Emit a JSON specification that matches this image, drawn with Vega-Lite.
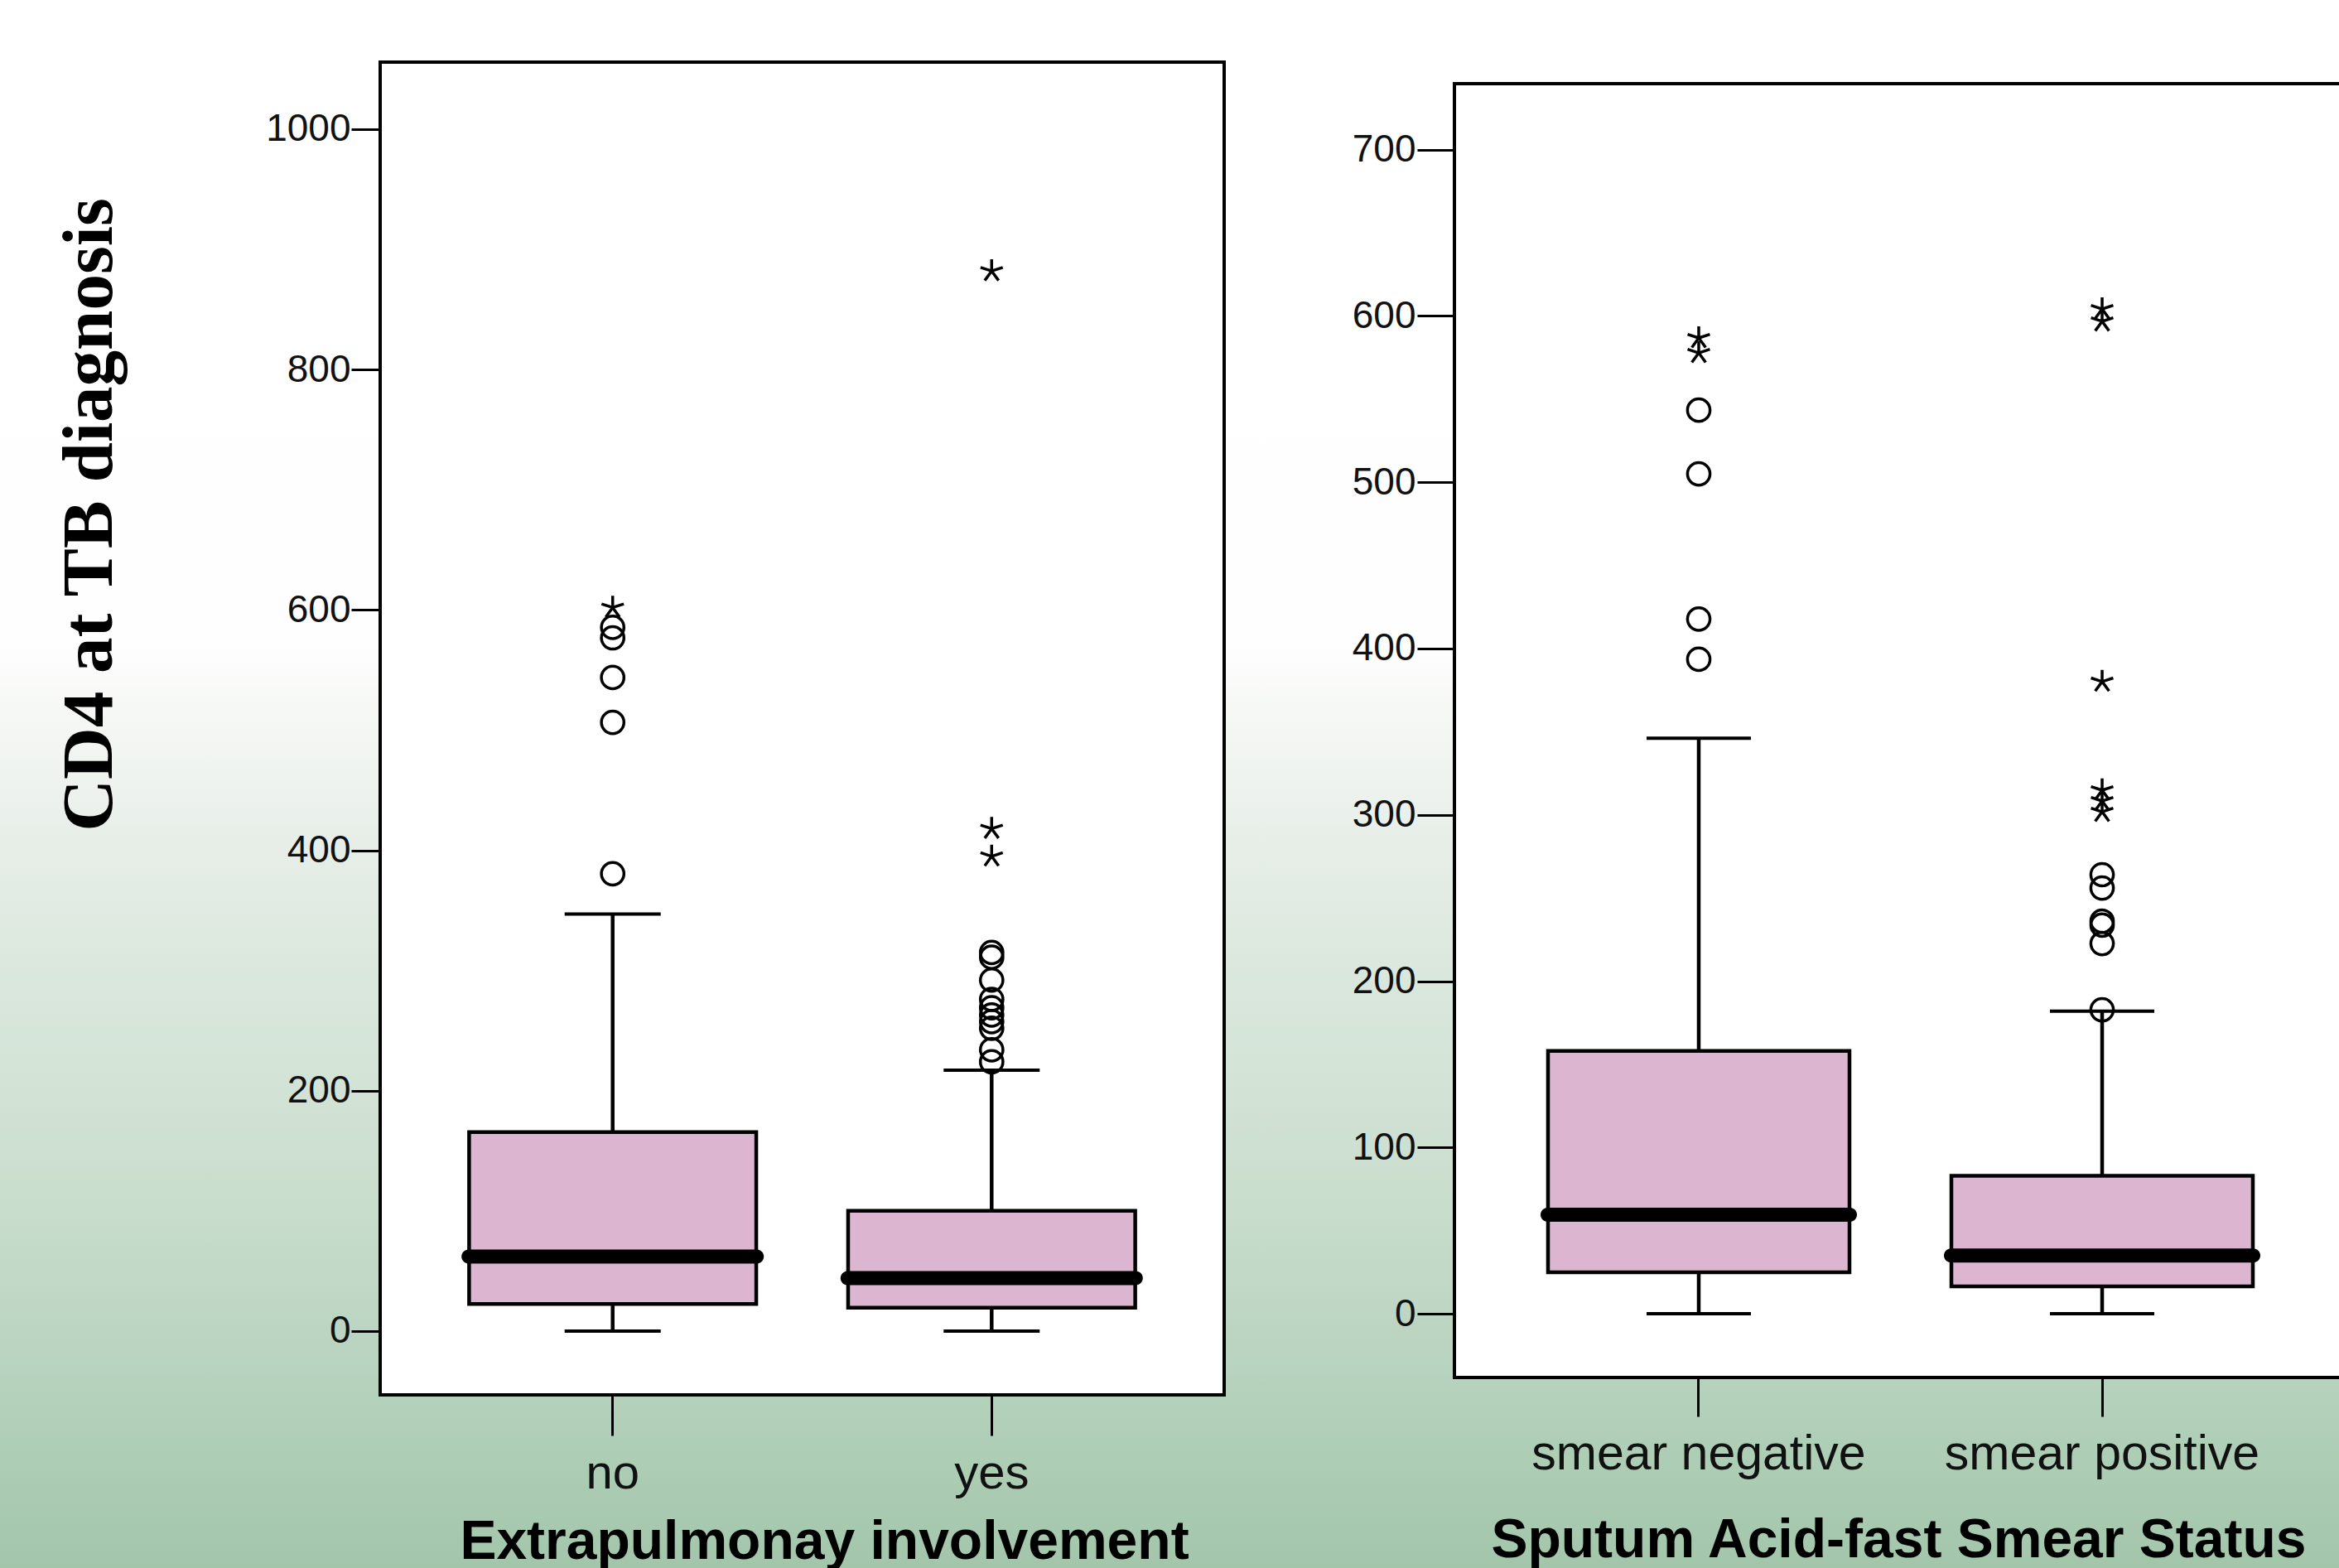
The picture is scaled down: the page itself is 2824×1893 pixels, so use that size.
{
  "$schema": "https://vega.github.io/schema/vega-lite/v6.json",
  "width": 2824,
  "height": 1893,
  "autosize": {"type": "none"},
  "padding": 0,
  "background": "#ffffff",
  "view": {
    "stroke": null,
    "fill": {
      "gradient": "linear", "x1": 0, "y1": 0, "x2": 0, "y2": 1,
      "stops": [
        {"offset": 0, "color": "#ffffff"},
        {"offset": 0.41, "color": "#fefefe"},
        {"offset": 0.46, "color": "#f5f7f4"},
        {"offset": 0.53, "color": "#e8efe9"},
        {"offset": 0.61, "color": "#dce8de"},
        {"offset": 0.69, "color": "#d3e3d6"},
        {"offset": 0.78, "color": "#c7dccb"},
        {"offset": 0.87, "color": "#b8d3bf"},
        {"offset": 0.95, "color": "#aacbb2"},
        {"offset": 1, "color": "#a3c6ab"}
      ]
    }
  },
  "config": {
    "axis": {"grid": false, "domain": false, "tickColor": "#000000", "tickWidth": 3, "labelColor": "#111111", "titleColor": "#000000", "labelFont": "Liberation Sans", "titleFont": "Liberation Sans", "labelOverlap": false, "labelFlush": false, "labelLimit": 0, "titleLimit": 0}
  },
  "datasets": {
    "frames": [{"panel": "L"}, {"panel": "R"}],
    "boxes": [
      {"panel": "L", "group": "no", "lo": 0, "q1": 22.5, "median": 62, "q3": 165.5, "hi": 347},
      {"panel": "L", "group": "yes", "lo": 0, "q1": 19.5, "median": 44, "q3": 100, "hi": 217},
      {"panel": "R", "group": "smear negative", "lo": 0, "q1": 25, "median": 59.5, "q3": 158, "hi": 346},
      {"panel": "R", "group": "smear positive", "lo": 0, "q1": 16.5, "median": 35, "q3": 83, "hi": 182}
    ],
    "outliers": [
      {"panel": "L", "group": "no", "value": 380.5, "kind": "circle"},
      {"panel": "L", "group": "no", "value": 506.5, "kind": "circle"},
      {"panel": "L", "group": "no", "value": 543.8, "kind": "circle"},
      {"panel": "L", "group": "no", "value": 576.8, "kind": "circle"},
      {"panel": "L", "group": "no", "value": 585.5, "kind": "circle"},
      {"panel": "L", "group": "no", "value": 602, "kind": "star"},
      {"panel": "L", "group": "yes", "value": 224, "kind": "circle"},
      {"panel": "L", "group": "yes", "value": 234, "kind": "circle"},
      {"panel": "L", "group": "yes", "value": 252, "kind": "circle"},
      {"panel": "L", "group": "yes", "value": 257.5, "kind": "circle"},
      {"panel": "L", "group": "yes", "value": 263, "kind": "circle"},
      {"panel": "L", "group": "yes", "value": 269, "kind": "circle"},
      {"panel": "L", "group": "yes", "value": 276, "kind": "circle"},
      {"panel": "L", "group": "yes", "value": 292, "kind": "circle"},
      {"panel": "L", "group": "yes", "value": 311, "kind": "circle"},
      {"panel": "L", "group": "yes", "value": 315, "kind": "circle"},
      {"panel": "L", "group": "yes", "value": 395, "kind": "star"},
      {"panel": "L", "group": "yes", "value": 418, "kind": "star"},
      {"panel": "L", "group": "yes", "value": 882, "kind": "star"},
      {"panel": "R", "group": "smear negative", "value": 393.5, "kind": "circle"},
      {"panel": "R", "group": "smear negative", "value": 417.7, "kind": "circle"},
      {"panel": "R", "group": "smear negative", "value": 505, "kind": "circle"},
      {"panel": "R", "group": "smear negative", "value": 543.3, "kind": "circle"},
      {"panel": "R", "group": "smear negative", "value": 577.7, "kind": "star"},
      {"panel": "R", "group": "smear negative", "value": 586.7, "kind": "star"},
      {"panel": "R", "group": "smear positive", "value": 182.8, "kind": "circle"},
      {"panel": "R", "group": "smear positive", "value": 222.6, "kind": "circle"},
      {"panel": "R", "group": "smear positive", "value": 233.7, "kind": "circle"},
      {"panel": "R", "group": "smear positive", "value": 236, "kind": "circle"},
      {"panel": "R", "group": "smear positive", "value": 256, "kind": "circle"},
      {"panel": "R", "group": "smear positive", "value": 264, "kind": "circle"},
      {"panel": "R", "group": "smear positive", "value": 301.8, "kind": "star"},
      {"panel": "R", "group": "smear positive", "value": 308.3, "kind": "star"},
      {"panel": "R", "group": "smear positive", "value": 314.8, "kind": "star"},
      {"panel": "R", "group": "smear positive", "value": 380.1, "kind": "star"},
      {"panel": "R", "group": "smear positive", "value": 596.7, "kind": "star"},
      {"panel": "R", "group": "smear positive", "value": 604.1, "kind": "star"}
    ]
  },
  "resolve": {"scale": {"x": "independent", "y": "independent"}},
  "layer": [
    {
      "data": {"name": "frames"},
      "transform": [{"filter": "datum.panel === 'L'"}],
      "mark": {"type": "rect", "fill": "#ffffff", "stroke": "#000000", "strokeWidth": 4},
      "encoding": {
        "x": {"datum": 0, "type": "quantitative", "scale": {"domain": [0, 1], "range": [459, 1478], "nice": false, "zero": false}, "axis": null},
        "x2": {"datum": 1},
        "y": {"datum": 0, "type": "quantitative", "scale": {"domain": [0, 1], "range": [1684, 75], "nice": false, "zero": false}, "axis": null},
        "y2": {"datum": 1}
      }
    },
    {
      "encoding": {
        "x": {
          "field": "group", "type": "nominal",
          "scale": {"type": "band", "domain": ["no", "yes"], "range": [459, 1478], "paddingInner": 0.2424, "paddingOuter": 0.2347},
          "axis": {
            "orient": "bottom", "offset": -209, "tickSize": 49, "labelFontSize": 58, "labelPadding": 17, "labelAngle": 0,
            "title": "Extrapulmonay involvement", "titleFontSize": 66, "titleFontWeight": "bold", "titleBaseline": "alphabetic", "titleY": 197, "titleX": 995
          }
        },
        "y": {
          "field": "lo", "type": "quantitative",
          "scale": {"domain": [-53.1, 1055.8], "range": [1684, 75], "nice": false, "zero": false},
          "axis": {
            "orient": "left", "offset": -459, "values": [0, 200, 400, 600, 800, 1000], "format": "d", "tickSize": 35, "labelFontSize": 46, "labelPadding": 1,
            "title": "CD4 at TB diagnosis", "titleFont": "Liberation Serif", "titleFontSize": 87, "titleFontWeight": "bold",
            "titleAngle": 270, "titleBaseline": "alphabetic", "titleAlign": "center", "titleX": -325, "titleY": 621
          }
        }
      },
      "layer": [
        {
          "data": {"name": "boxes"},
          "transform": [{"filter": "datum.panel === 'L'"}],
          "mark": {"type": "rule", "color": "#000000", "strokeWidth": 4.5},
          "encoding": {"y2": {"field": "hi"}}
        },
        {
          "data": {"name": "boxes"},
          "transform": [{"filter": "datum.panel === 'L'"}],
          "mark": {"type": "tick", "color": "#000000", "size": 116, "thickness": 4, "opacity": 1}
        },
        {
          "data": {"name": "boxes"},
          "transform": [{"filter": "datum.panel === 'L'"}],
          "mark": {"type": "tick", "color": "#000000", "size": 116, "thickness": 4, "opacity": 1},
          "encoding": {"y": {"field": "hi", "type": "quantitative"}}
        },
        {
          "data": {"name": "boxes"},
          "transform": [{"filter": "datum.panel === 'L'"}],
          "mark": {"type": "bar", "fill": "#dcb6d1", "stroke": "#000000", "strokeWidth": 4.5, "opacity": 1},
          "encoding": {"y": {"field": "q1", "type": "quantitative"}, "y2": {"field": "q3"}}
        },
        {
          "data": {"name": "boxes"},
          "transform": [{"filter": "datum.panel === 'L'"}],
          "mark": {"type": "tick", "color": "#000000", "size": 365, "thickness": 17, "cornerRadius": 8.5, "opacity": 1},
          "encoding": {"y": {"field": "median", "type": "quantitative"}}
        },
        {
          "data": {"name": "outliers"},
          "transform": [{"filter": "datum.panel === 'L' && datum.kind === 'circle'"}],
          "mark": {"type": "point", "shape": "circle", "filled": false, "stroke": "#000000", "strokeWidth": 3.5, "size": 740, "opacity": 1},
          "encoding": {"y": {"field": "value", "type": "quantitative"}}
        },
        {
          "data": {"name": "outliers"},
          "transform": [{"filter": "datum.panel === 'L' && datum.kind === 'star'"}],
          "mark": {"type": "point", "shape": "M0,0L0,-1M0,0L0.95,-0.31M0,0L-0.95,-0.31M0,0L0.59,0.81M0,0L-0.59,0.81", "filled": false, "stroke": "#000000", "strokeWidth": 3.5, "size": 800, "opacity": 1},
          "encoding": {"y": {"field": "value", "type": "quantitative"}}
        }
      ]
    },
    {
      "data": {"name": "frames"},
      "transform": [{"filter": "datum.panel === 'R'"}],
      "mark": {"type": "rect", "fill": "#ffffff", "stroke": "#000000", "strokeWidth": 4},
      "encoding": {
        "x": {"datum": 0, "type": "quantitative", "scale": {"domain": [0, 1], "range": [1756, 2833], "nice": false, "zero": false}, "axis": null},
        "x2": {"datum": 1},
        "y": {"datum": 0, "type": "quantitative", "scale": {"domain": [0, 1], "range": [1663, 101], "nice": false, "zero": false}, "axis": null},
        "y2": {"datum": 1}
      }
    },
    {
      "encoding": {
        "x": {
          "field": "group", "type": "nominal",
          "scale": {"type": "band", "domain": ["smear negative", "smear positive"], "range": [1756, 2833], "paddingInner": 0.2526, "paddingOuter": 0.232},
          "axis": {
            "orient": "bottom", "offset": -230, "tickSize": 47, "labelFontSize": 59, "labelPadding": 16, "labelAngle": 0,
            "title": "Sputum Acid-fast Smear Status", "titleFontSize": 66, "titleFontWeight": "bold", "titleBaseline": "alphabetic", "titleY": 216, "titleX": 2292
          }
        },
        "y": {
          "field": "lo", "type": "quantitative",
          "scale": {"domain": [-38.3, 739.6], "range": [1663, 101], "nice": false, "zero": false},
          "axis": {"orient": "left", "offset": -1756, "values": [0, 100, 200, 300, 400, 500, 600, 700], "format": "d", "tickSize": 45, "labelFontSize": 46, "labelPadding": 2, "title": null}
        }
      },
      "layer": [
        {
          "data": {"name": "boxes"},
          "transform": [{"filter": "datum.panel === 'R'"}],
          "mark": {"type": "rule", "color": "#000000", "strokeWidth": 4.5},
          "encoding": {"y2": {"field": "hi"}}
        },
        {
          "data": {"name": "boxes"},
          "transform": [{"filter": "datum.panel === 'R'"}],
          "mark": {"type": "tick", "color": "#000000", "size": 126, "thickness": 4, "opacity": 1}
        },
        {
          "data": {"name": "boxes"},
          "transform": [{"filter": "datum.panel === 'R'"}],
          "mark": {"type": "tick", "color": "#000000", "size": 126, "thickness": 4, "opacity": 1},
          "encoding": {"y": {"field": "hi", "type": "quantitative"}}
        },
        {
          "data": {"name": "boxes"},
          "transform": [{"filter": "datum.panel === 'R'"}],
          "mark": {"type": "bar", "fill": "#dcb6d1", "stroke": "#000000", "strokeWidth": 4.5, "opacity": 1},
          "encoding": {"y": {"field": "q1", "type": "quantitative"}, "y2": {"field": "q3"}}
        },
        {
          "data": {"name": "boxes"},
          "transform": [{"filter": "datum.panel === 'R'"}],
          "mark": {"type": "tick", "color": "#000000", "size": 382, "thickness": 17, "cornerRadius": 8.5, "opacity": 1},
          "encoding": {"y": {"field": "median", "type": "quantitative"}}
        },
        {
          "data": {"name": "outliers"},
          "transform": [{"filter": "datum.panel === 'R' && datum.kind === 'circle'"}],
          "mark": {"type": "point", "shape": "circle", "filled": false, "stroke": "#000000", "strokeWidth": 3.5, "size": 740, "opacity": 1},
          "encoding": {"y": {"field": "value", "type": "quantitative"}}
        },
        {
          "data": {"name": "outliers"},
          "transform": [{"filter": "datum.panel === 'R' && datum.kind === 'star'"}],
          "mark": {"type": "point", "shape": "M0,0L0,-1M0,0L0.95,-0.31M0,0L-0.95,-0.31M0,0L0.59,0.81M0,0L-0.59,0.81", "filled": false, "stroke": "#000000", "strokeWidth": 3.5, "size": 800, "opacity": 1},
          "encoding": {"y": {"field": "value", "type": "quantitative"}}
        }
      ]
    }
  ]
}
